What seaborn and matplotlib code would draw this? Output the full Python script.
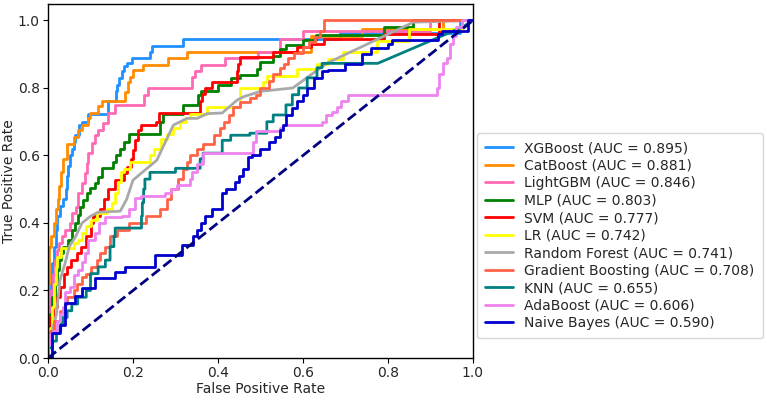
import matplotlib
matplotlib.use("Agg")
import matplotlib.pyplot as plt
import seaborn as sns

# model names, AUC values and colours (legend order)
models = ["XGBoost", "CatBoost", "LightGBM", "MLP", "SVM", "LR",
          "Random Forest", "Gradient Boosting", "KNN", "AdaBoost", "Naive Bayes"]
aucs = [0.895, 0.881, 0.846, 0.803, 0.777, 0.742, 0.741, 0.708, 0.655, 0.606, 0.590]
colors = ["#1E90FF", "#FF8C00", "#FF69B4", "#008000", "#FF0000", "#FFFF00",
          "#A9A9A9", "#FF6347", "#008080", "#EE82EE", "#0000CD"]

# ROC points (step curves: vertical then horizontal)
xgb_fpr = [0, 0.003, 0.006, 0.01, 0.014, 0.018, 0.022, 0.028, 0.035, 0.042, 0.045, 0.047, 0.052,
           0.056, 0.06, 0.064, 0.072, 0.08, 0.095, 0.142, 0.159, 0.163, 0.168, 0.173, 0.178, 0.185,
           0.197, 0.24, 0.245, 0.318, 0.687, 0.97, 1.0]
xgb_tpr = [0, 0.08, 0.15, 0.22, 0.28, 0.33, 0.38, 0.42, 0.45, 0.47, 0.5, 0.54, 0.57,
           0.6, 0.62, 0.64, 0.66, 0.69, 0.70, 0.724, 0.76, 0.79, 0.81, 0.83, 0.85, 0.865,
           0.875, 0.888, 0.906, 0.925, 0.944, 0.962, 1.0]

cat_fpr = [0, 0.003, 0.008, 0.015, 0.018, 0.023, 0.026, 0.031, 0.036, 0.044, 0.06, 0.07, 0.08,
           0.095, 0.099, 0.118, 0.128, 0.181, 0.188, 0.193, 0.2, 0.224, 0.282, 0.326, 0.62,
           0.74, 0.93, 1.0]
cat_tpr = [0, 0.22, 0.33, 0.36, 0.40, 0.44, 0.47, 0.51, 0.55, 0.59, 0.635, 0.655, 0.675,
           0.69, 0.71, 0.725, 0.746, 0.760, 0.788, 0.818, 0.832, 0.852, 0.869, 0.889, 0.908,
           0.955, 0.976, 1.0]

lgb_fpr = [0, 0.003, 0.008, 0.012, 0.016, 0.02, 0.026, 0.032, 0.04, 0.052, 0.056, 0.067, 0.071,
           0.079, 0.087, 0.091, 0.095, 0.103, 0.11, 0.118, 0.13, 0.14, 0.158, 0.226, 0.235,
           0.34, 0.345, 0.36, 0.416, 0.495, 0.546, 0.60, 0.90, 1.0]
lgb_tpr = [0, 0.06, 0.14, 0.2, 0.25, 0.29, 0.32, 0.34, 0.36, 0.38, 0.40, 0.43, 0.447,
           0.488, 0.518, 0.547, 0.577, 0.607, 0.636, 0.66, 0.675, 0.695, 0.725, 0.749, 0.778,
           0.80, 0.833, 0.85, 0.868, 0.888, 0.908, 0.945, 0.97, 1.0]

mlp_fpr = [0, 0.004, 0.01, 0.016, 0.02, 0.025, 0.03, 0.035, 0.048, 0.056, 0.064, 0.071, 0.075,
           0.083, 0.091, 0.099, 0.11, 0.118, 0.126, 0.153, 0.16, 0.17, 0.18, 0.19, 0.2, 0.264,
           0.27, 0.318, 0.353, 0.36, 0.40, 0.43, 0.452, 0.491, 0.5, 0.53, 0.546, 0.56, 0.6,
           0.63, 0.79, 0.86, 1.0]
mlp_tpr = [0, 0.08, 0.13, 0.18, 0.22, 0.26, 0.29, 0.31, 0.33, 0.35, 0.38, 0.40, 0.423,
           0.447, 0.467, 0.49, 0.503, 0.518, 0.536, 0.562, 0.58, 0.60, 0.62, 0.64, 0.665, 0.665,
           0.70, 0.724, 0.75, 0.78, 0.79, 0.81, 0.83, 0.837, 0.857, 0.877, 0.896, 0.916, 0.926,
           0.941, 0.957, 0.98, 1.0]

svm_fpr = [0, 0.004, 0.012, 0.02, 0.028, 0.038, 0.045, 0.055, 0.068, 0.078, 0.09, 0.1, 0.106,
           0.122, 0.132, 0.14, 0.148, 0.158, 0.178, 0.185, 0.195, 0.2, 0.205, 0.212, 0.22,
           0.255, 0.262, 0.358, 0.362, 0.37, 0.386, 0.444, 0.448, 0.452, 0.53, 0.585, 0.62,
           0.65, 0.79, 0.92, 1.0]
svm_tpr = [0, 0.07, 0.12, 0.15, 0.18, 0.21, 0.25, 0.27, 0.29, 0.31, 0.33, 0.36, 0.40,
           0.42, 0.44, 0.47, 0.50, 0.50, 0.527, 0.547, 0.566, 0.59, 0.615, 0.645, 0.675,
           0.69, 0.70, 0.727, 0.76, 0.783, 0.80, 0.818, 0.85, 0.87, 0.892, 0.908, 0.92,
           0.93, 0.944, 0.96, 1.0]

lr_fpr = [0, 0.005, 0.01, 0.014, 0.018, 0.022, 0.03, 0.06, 0.07, 0.08, 0.09, 0.1, 0.115, 0.139,
          0.15, 0.158, 0.165, 0.172, 0.178, 0.193, 0.24, 0.25, 0.265, 0.28, 0.295, 0.31, 0.325,
          0.334, 0.374, 0.452, 0.506, 0.515, 0.585, 0.632, 0.66, 0.695, 0.775, 0.85, 0.975, 1.0]
lr_tpr = [0, 0.06, 0.09, 0.15, 0.22, 0.27, 0.30, 0.325, 0.34, 0.35, 0.37, 0.39, 0.41, 0.43,
          0.44, 0.46, 0.49, 0.52, 0.55, 0.56, 0.58, 0.60, 0.62, 0.65, 0.665, 0.68, 0.70,
          0.71, 0.724, 0.744, 0.80, 0.818, 0.835, 0.855, 0.87, 0.885, 0.907, 0.94, 0.975, 1.0]

# Random Forest has tied scores, drawn as a plain polyline
rf_fpr = [0, 0.0, 0.01, 0.02, 0.028, 0.04, 0.05, 0.065, 0.08, 0.1, 0.118, 0.17, 0.185, 0.2,
          0.256, 0.295, 0.327, 0.351, 0.375, 0.41, 0.445, 0.46, 0.5, 0.576, 0.656, 0.86, 1.0]
rf_tpr = [0, 0.05, 0.08, 0.13, 0.23, 0.28, 0.33, 0.36, 0.40, 0.42, 0.432, 0.435, 0.47, 0.527,
          0.586, 0.69, 0.71, 0.71, 0.724, 0.726, 0.764, 0.774, 0.79, 0.80, 0.873, 0.995, 1.0]

gb_fpr = [0, 0.005, 0.015, 0.028, 0.04, 0.045, 0.06, 0.068, 0.08, 0.09, 0.1, 0.115, 0.122,
          0.135, 0.146, 0.162, 0.19, 0.23, 0.264, 0.28, 0.29, 0.305, 0.318, 0.327, 0.335,
          0.35, 0.365, 0.39, 0.405, 0.415, 0.425, 0.435, 0.452, 0.475, 0.49, 0.5, 0.52, 0.53,
          0.546, 0.555, 0.565, 0.58, 0.6, 0.615, 0.628, 0.64, 0.65, 0.664, 1.0]
gb_tpr = [0, 0.05, 0.08, 0.11, 0.14, 0.16, 0.18, 0.2, 0.22, 0.24, 0.25, 0.27, 0.29,
          0.31, 0.33, 0.36, 0.38, 0.40, 0.42, 0.44, 0.47, 0.50, 0.53, 0.56, 0.58,
          0.60, 0.62, 0.635, 0.66, 0.68, 0.70, 0.72, 0.744, 0.757, 0.77, 0.78, 0.80, 0.82,
          0.84, 0.86, 0.87, 0.89, 0.905, 0.92, 0.935, 0.95, 0.97, 1.0, 1.0]

knn_fpr = [0, 0.01, 0.02, 0.03, 0.035, 0.045, 0.056, 0.07, 0.09, 0.1, 0.118, 0.135, 0.146,
           0.155, 0.158, 0.22, 0.222, 0.225, 0.228, 0.24, 0.3, 0.358, 0.365, 0.41, 0.43, 0.475,
           0.515, 0.53, 0.56, 0.575, 0.59, 0.61, 0.633, 0.645, 0.663]
knn_tpr = [0, 0.03, 0.05, 0.08, 0.1, 0.12, 0.14, 0.16, 0.18, 0.2, 0.25, 0.27, 0.29,
           0.33, 0.36, 0.385, 0.42, 0.46, 0.50, 0.53, 0.55, 0.562, 0.59, 0.607, 0.645, 0.66,
           0.666, 0.70, 0.72, 0.75, 0.78, 0.80, 0.83, 0.86, 0.873]
knn_tail_fpr = [0.776, 0.975, 1.0]
knn_tail_tpr = [0.873, 0.98, 1.0]

ada_fpr = [0, 0.005, 0.012, 0.02, 0.028, 0.035, 0.04, 0.052, 0.06, 0.07, 0.08, 0.087, 0.094,
           0.11, 0.12, 0.134, 0.175, 0.19, 0.205, 0.22, 0.275, 0.29, 0.303, 0.334, 0.34, 0.35,
           0.365, 0.483, 0.49, 0.546, 0.553, 0.645, 0.655, 0.668, 0.68, 0.69, 0.705, 0.722,
           0.915, 0.92, 0.93, 0.94, 0.945, 0.953, 0.96, 0.975, 1.0]
ada_tpr = [0, 0.04, 0.07, 0.08, 0.11, 0.13, 0.15, 0.195, 0.21, 0.245, 0.26, 0.285, 0.31,
           0.35, 0.37, 0.40, 0.417, 0.42, 0.44, 0.473, 0.48, 0.49, 0.50, 0.512, 0.53, 0.55,
           0.575, 0.607, 0.64, 0.672, 0.68, 0.69, 0.70, 0.72, 0.73, 0.745, 0.76, 0.778,
           0.778, 0.80, 0.84, 0.875, 0.89, 0.93, 0.955, 0.98, 1.0]

nb_fpr = [0, 0.009, 0.028, 0.04, 0.064, 0.079, 0.11, 0.158, 0.181, 0.252, 0.315, 0.341, 0.35,
          0.36, 0.37, 0.385, 0.41, 0.42, 0.44, 0.45, 0.46, 0.47, 0.48, 0.5, 0.52, 0.535, 0.546,
          0.553, 0.56, 0.575, 0.585, 0.6, 0.61, 0.625, 0.645, 0.66, 0.70, 0.74, 0.76, 0.80,
          0.81, 0.918, 0.927, 0.988, 1.0]
nb_tpr = [0, 0, 0.075, 0.098, 0.163, 0.183, 0.207, 0.237, 0.256, 0.27, 0.305, 0.334, 0.36,
          0.38, 0.40, 0.42, 0.44, 0.49, 0.50, 0.52, 0.54, 0.56, 0.595, 0.6, 0.62, 0.64, 0.655,
          0.675, 0.69, 0.72, 0.74, 0.76, 0.78, 0.80, 0.83, 0.85, 0.852, 0.872, 0.90, 0.917,
          0.93, 0.941, 0.96, 0.97, 1.0]


def stairs(fpr, tpr):
    """up first, then across"""
    xs, ys = [fpr[0]], [tpr[0]]
    for i in range(1, len(fpr)):
        xs += [fpr[i - 1], fpr[i]]
        ys += [tpr[i], tpr[i]]
    return xs, ys


knn_x, knn_y = stairs(knn_fpr, knn_tpr)
curves = [
    stairs(xgb_fpr, xgb_tpr),
    stairs(cat_fpr, cat_tpr),
    stairs(lgb_fpr, lgb_tpr),
    stairs(mlp_fpr, mlp_tpr),
    stairs(svm_fpr, svm_tpr),
    stairs(lr_fpr, lr_tpr),
    (rf_fpr, rf_tpr),
    stairs(gb_fpr, gb_tpr),
    (knn_x + knn_tail_fpr, knn_y + knn_tail_tpr),
    stairs(ada_fpr, ada_tpr),
    stairs(nb_fpr, nb_tpr),
]

sns.set_style("ticks")
plt.rcParams["font.family"] = ["DejaVu Sans"]

fig = plt.figure(figsize=(7.67, 4.0), dpi=100)
ax = fig.add_axes([0.0626, 0.105, 0.554, 0.886])

for name, auc, col, (xs, ys) in zip(models, aucs, colors, curves):
    sns.lineplot(x=xs, y=ys, ax=ax, sort=False, estimator=None, errorbar=None,
                 color=col, lw=2, label=f"{name} (AUC = {auc:.3f})")

ax.plot([0, 1], [0, 1], color="navy", lw=2, linestyle="--")

ax.set_xlim(0.0, 1.0)
ax.set_ylim(0.0, 1.05)
ax.set_xticks([0.0, 0.2, 0.4, 0.6, 0.8, 1.0])
ax.set_yticks([0.0, 0.2, 0.4, 0.6, 0.8, 1.0])
ax.tick_params(labelsize=10, direction="out", length=3.5, pad=2.5, color="black")
ax.set_xlabel("False Positive Rate", fontsize=10, labelpad=1)
ax.set_ylabel("True Positive Rate", fontsize=10, labelpad=1)
for s in ax.spines.values():
    s.set_color("black")
    s.set_linewidth(1.0)

ax.legend(loc="upper left", bbox_to_anchor=(1.009, 0.635), borderaxespad=0,
          fontsize=10, labelspacing=0.25, borderpad=0.6, handlelength=2.0,
          handletextpad=0.8, frameon=True, fancybox=True, edgecolor="#cccccc")

fig.savefig("out.png", dpi=100)
